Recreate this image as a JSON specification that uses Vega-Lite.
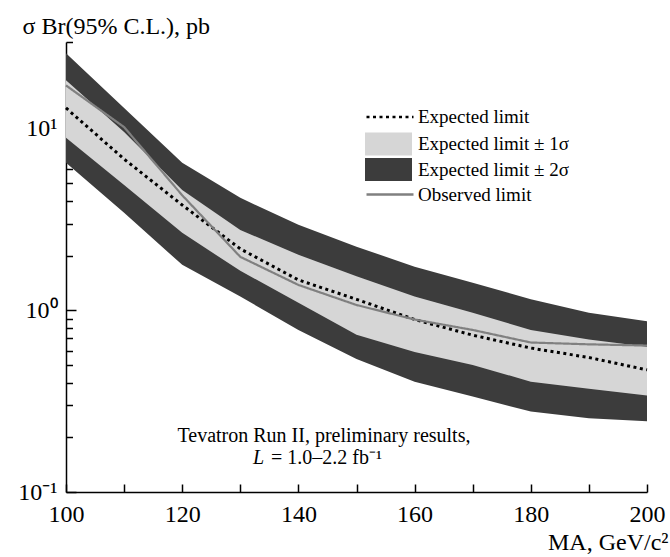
{
  "$schema": "https://vega.github.io/schema/vega-lite/v6.json",
  "width": 581,
  "height": 450,
  "autosize": {"type": "none"},
  "padding": {"left": 66, "top": 42, "right": 23, "bottom": 65},
  "background": "white",
  "config": {
    "view": {"stroke": null},
    "font": "Liberation Serif",
    "axis": {"domainColor": "black", "tickColor": "black", "labelColor": "black", "titleColor": "black", "labelFont": "Liberation Serif", "titleFont": "Liberation Serif", "grid": false, "titleFontWeight": "normal"},
    "legend": {"labelFont": "Liberation Serif", "labelFontSize": 19, "labelColor": "black", "labelLimit": 0, "padding": 0}
  },
  "data": {"values": [
    {"m": 100, "hi2": 26.0, "hi1": 18.5, "exp": 13.0, "lo1": 8.9, "lo2": 6.5, "obs": 17.3},
    {"m": 110, "hi2": 13.0, "hi1": 9.6, "exp": 6.8, "lo1": 4.9, "lo2": 3.44, "obs": 10.2},
    {"m": 120, "hi2": 6.5, "hi1": 4.6, "exp": 3.8, "lo1": 2.67, "lo2": 1.78, "obs": 4.3},
    {"m": 130, "hi2": 4.16, "hi1": 2.77, "exp": 2.18, "lo1": 1.65, "lo2": 1.19, "obs": 1.97},
    {"m": 140, "hi2": 2.96, "hi1": 2.02, "exp": 1.47, "lo1": 1.10, "lo2": 0.78, "obs": 1.38},
    {"m": 150, "hi2": 2.24, "hi1": 1.54, "exp": 1.15, "lo1": 0.735, "lo2": 0.54, "obs": 1.07},
    {"m": 160, "hi2": 1.74, "hi1": 1.19, "exp": 0.89, "lo1": 0.59, "lo2": 0.405, "obs": 0.89},
    {"m": 170, "hi2": 1.42, "hi1": 0.97, "exp": 0.73, "lo1": 0.50, "lo2": 0.335, "obs": 0.78},
    {"m": 180, "hi2": 1.15, "hi1": 0.78, "exp": 0.62, "lo1": 0.405, "lo2": 0.277, "obs": 0.665},
    {"m": 190, "hi2": 0.97, "hi1": 0.69, "exp": 0.55, "lo1": 0.37, "lo2": 0.255, "obs": 0.65},
    {"m": 200, "hi2": 0.87, "hi1": 0.63, "exp": 0.47, "lo1": 0.34, "lo2": 0.245, "obs": 0.64}
  ]},
  "layer": [
    {
      "mark": {"type": "area", "opacity": 1},
      "encoding": {
        "x": {"field": "m", "type": "quantitative", "scale": {"domain": [100, 200], "nice": false},
          "axis": {"values": [100, 110, 120, 130, 140, 150, 160, 170, 180, 190, 200], "tickSize": -8, "tickWidth": 1.5, "domainWidth": 1.5,
            "labelExpr": "datum.value % 20 == 0 ? datum.label : ''", "labelFontSize": 24, "labelPadding": 18, "labelFlush": false, "labelOverlap": false,
            "title": "MA, GeV/c²", "titleFontSize": 24, "titleX": 602, "titleY": 57, "titleAlign": "right", "titleBaseline": "alphabetic"}},
        "y": {"field": "lo2", "type": "quantitative", "scale": {"type": "log", "domain": [0.1, 30], "nice": false},
          "axis": {"orient": "left", "values": [0.1, 1, 10], "tickSize": -10, "tickWidth": 1.5, "domainWidth": 1.5,
            "labelExpr": "datum.value == 10 ? '10¹' : datum.value == 1 ? '10⁰' : '10⁻¹'", "labelFontSize": 24, "labelPadding": 19, "labelOverlap": false,
            "title": "σ Br(95% C.L.), pb", "titleFontSize": 24, "titleAngle": 0, "titleAlign": "left", "titleBaseline": "alphabetic", "titleX": -44, "titleY": -9}},
        "y2": {"field": "hi2"},
        "fill": {"datum": "Expected limit ± 2σ",
          "scale": {"domain": ["Expected limit ± 1σ", "Expected limit ± 2σ"], "range": ["#d6d6d6", "#3c3c3c"]},
          "legend": {"orient": "none", "legendX": 299, "legendY": 90.5, "title": null,
            "symbolType": "M-1,-1H3.087V1H-1Z", "symbolSize": 529, "symbolStrokeWidth": 0, "symbolOpacity": 1,
            "rowPadding": 2.5, "labelOffset": 30}}
      }
    },
    {
      "mark": {"type": "area", "opacity": 1},
      "encoding": {
        "x": {"field": "m", "type": "quantitative"},
        "y": {"field": "lo1", "type": "quantitative",
          "axis": {"orient": "left", "values": [0.2, 0.3, 0.4, 0.5, 0.6, 0.7, 0.8, 0.9, 2, 3, 4, 5, 6, 7, 8, 9, 20, 30], "tickSize": -6.5, "tickWidth": 1.5, "labels": false, "domain": false, "title": null}},
        "y2": {"field": "hi1"},
        "fill": {"datum": "Expected limit ± 1σ"}
      }
    },
    {
      "mark": {"type": "line", "strokeWidth": 3},
      "encoding": {
        "x": {"field": "m", "type": "quantitative"},
        "y": {"field": "exp", "type": "quantitative", "axis": null},
        "stroke": {"datum": "Expected limit",
          "scale": {"domain": ["Expected limit", "Observed limit"], "range": ["#000000", "#808080"]},
          "legend": {"orient": "none", "legendX": 299, "legendY": 62, "title": null,
            "symbolType": "M-1,0H3.087", "symbolSize": 529, "symbolStrokeWidth": 2.6, "symbolFillColor": "transparent", "symbolOpacity": 1,
            "rowPadding": 54.5, "labelOffset": 27}},
        "strokeDash": {"datum": "Expected limit",
          "scale": {"domain": ["Expected limit", "Observed limit"], "range": [[3, 3.5], [1, 0]]}}
      }
    },
    {
      "mark": {"type": "line", "strokeWidth": 2.2},
      "encoding": {
        "x": {"field": "m", "type": "quantitative"},
        "y": {"field": "obs", "type": "quantitative", "axis": null},
        "stroke": {"datum": "Observed limit"},
        "strokeDash": {"datum": "Observed limit"}
      }
    },
    {
      "data": {"values": [{}]},
      "mark": {"type": "text", "font": "Liberation Serif", "fontSize": 20, "align": "center", "baseline": "alphabetic", "fill": "black"},
      "encoding": {
        "x": {"datum": 144.4, "type": "quantitative"},
        "y": {"datum": 0.1884, "type": "quantitative", "axis": null},
        "text": {"value": "Tevatron Run II, preliminary results,"}
      }
    },
    {
      "data": {"values": [{}]},
      "mark": {"type": "text", "font": "Liberation Serif", "fontSize": 20, "fontStyle": "italic", "align": "right", "baseline": "alphabetic", "fill": "black"},
      "encoding": {
        "x": {"datum": 134.08, "type": "quantitative"},
        "y": {"datum": 0.1426, "type": "quantitative", "axis": null},
        "text": {"value": "L"}
      }
    },
    {
      "data": {"values": [{}]},
      "mark": {"type": "text", "font": "Liberation Serif", "fontSize": 20, "align": "left", "baseline": "alphabetic", "fill": "black"},
      "encoding": {
        "x": {"datum": 135.3, "type": "quantitative"},
        "y": {"datum": 0.1426, "type": "quantitative", "axis": null},
        "text": {"value": "= 1.0–2.2 fb⁻¹"}
      }
    }
  ],
  "resolve": {"axis": {"y": "independent"}}
}
